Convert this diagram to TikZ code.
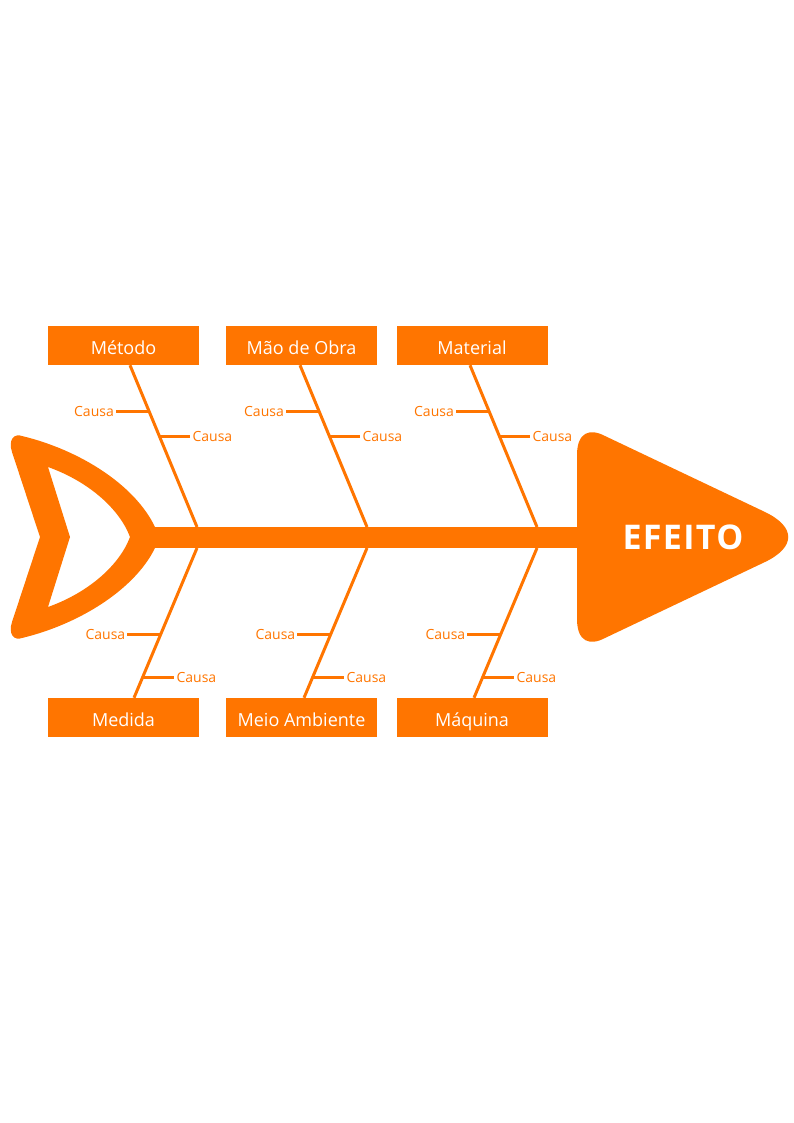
\documentclass[tikz,border=0pt]{standalone}
\usepackage{fontspec}
\setmainfont{Open Sans}
\usetikzlibrary{calc}
\definecolor{fish}{RGB}{255,117,0}
\begin{document}
\begin{tikzpicture}[x=1pt,y=-1pt,
  box/.style={fill=fish,text=white,minimum width=151pt,minimum height=39pt,inner sep=0pt,
    text height=20pt,text depth=3pt,font=\fontsize{18}{20}\selectfont},
  bone/.style={draw=fish,line width=3pt},
  twig/.style={draw=fish,line width=3pt},
  cause/.style={text=fish,font=\fontsize{14}{16}\selectfont,inner sep=2pt},
  spine/.style={draw=fish,line width=21pt}]
\useasboundingbox (0,0) rectangle (794,1123);

% tail
\fill[fish, even odd rule] (40,537) -- (12,452) .. controls (8,440) and (14,433) .. (22,436)
  .. controls (80,450) and (135,485) .. (155,527) -- (155,548)
  .. controls (135,589) and (80,624) .. (22,638) .. controls (14,641) and (8,634) .. (12,622) -- cycle
  (70,537) -- (48,467) .. controls (90,482) and (120,510) .. (130,537)
  .. controls (120,564) and (90,592) .. (48,607) -- cycle;

% head
\fill[fish] (577,500) -- (577,455) .. controls (577,432) and (590,428) .. (605,436) -- (765,512)
  .. controls (796,527) and (796,547) .. (765,562) -- (605,638)
  .. controls (590,646) and (577,642) .. (577,619) -- cycle;
\node[text=white,font=\fontsize{34}{36}\selectfont\bfseries\addfontfeatures{LetterSpace=4}] (effect) at (683,537) {EFEITO};

% spine
\coordinate (tail) at (150,537);
\coordinate (headl) at (580,537);
\draw[spine] (tail) -- (headl);

% category boxes
\node[box] (b1) at (123.5,345.5) {Método};
\node[box] (b2) at (301.5,345.5) {Mão de Obra};
\node[box] (b3) at (472,345.5) {Material};
\node[box] (b4) at (123.5,717.5) {Medida};
\node[box] (b5) at (301.5,717.5) {Meio Ambiente};
\node[box] (b6) at (472,717.5) {Máquina};

% top bones
\foreach \i/\dx in {1/0,2/170,3/340} {
  \coordinate (jt\i) at (197+\dx,527);
  \coordinate (bt\i) at ($(b\i.south -| jt\i)+(-67,0)$);
  \draw[bone] (bt\i) -- (jt\i);
  \path (bt\i) -- (jt\i) coordinate[pos=0.284] (ta\i) coordinate[pos=0.438] (tb\i);
  \node[cause,anchor=east] (ca\i) at ($(ta\i)+(-33,0)$) {Causa};
  \node[cause,anchor=west] (cb\i) at ($(tb\i)+(31,0)$) {Causa};
  \draw[twig] (ta\i) -- (ca\i.east);
  \draw[twig] (tb\i) -- (cb\i.west);
}
% bottom bones
\foreach \i/\j/\dx in {1/4/0,2/5/170,3/6/340} {
  \coordinate (jb\i) at (197+\dx,548);
  \coordinate (bb\i) at ($(b\j.north -| jb\i)+(-63,0)$);
  \draw[bone] (jb\i) -- (bb\i);
  \path (jb\i) -- (bb\i) coordinate[pos=0.58] (da\i) coordinate[pos=0.867] (db\i);
  \node[cause,anchor=east] (cc\i) at ($(da\i)+(-33,0)$) {Causa};
  \node[cause,anchor=west] (cd\i) at ($(db\i)+(32,0)$) {Causa};
  \draw[twig] (da\i) -- (cc\i.east);
  \draw[twig] (db\i) -- (cd\i.west);
}
\end{tikzpicture}
\end{document}
